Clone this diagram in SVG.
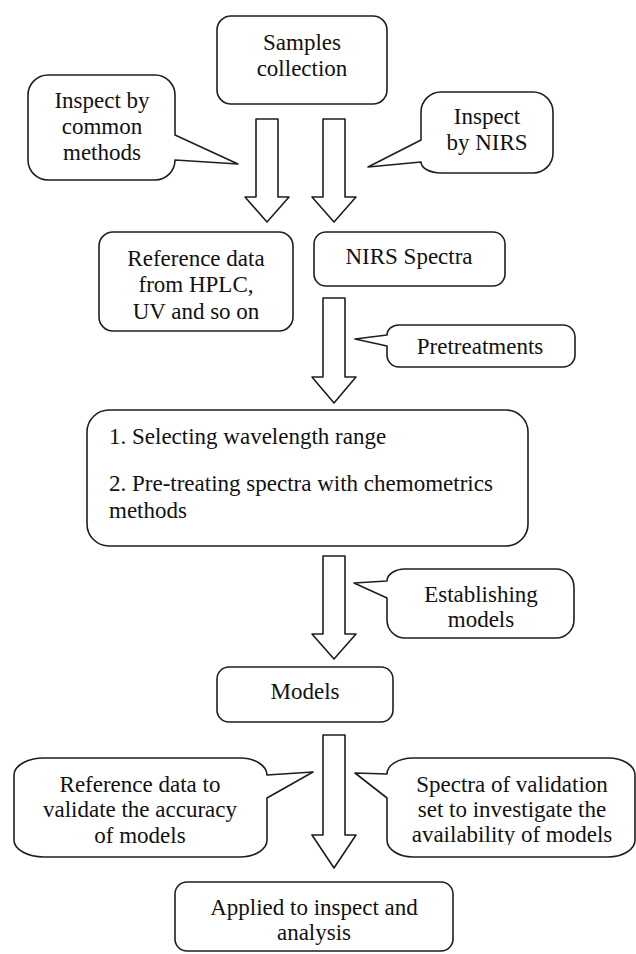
<svg xmlns="http://www.w3.org/2000/svg" width="636" height="954" viewBox="0 0 636 954">
<style>
.s{fill:#fff;stroke:#1e1e1e;stroke-width:1.6;stroke-linejoin:round}
.t{font-family:'Liberation Serif','DejaVu Serif',serif;font-size:23px;fill:#111;text-anchor:middle}
.l{text-anchor:start}
</style>
<defs>
<clipPath id="cl"><rect x="380" y="750" width="256" height="95"/></clipPath>
</defs>
<rect width="636" height="954" fill="#fff"/>
<g id="connectors">
<polygon class="s" points="256,119 278,119 278,197 289,197 267,222 245,197 256,197"/>
<polygon class="s" points="323,119 345,119 345,197 356,197 334,222 312,197 323,197"/>
<polygon class="s" points="323,298 345,298 345,377 356,377 334,403 312,377 323,377"/>
<polygon class="s" points="323,556 345,556 345,634 356,634 334,659 312,634 323,634"/>
<polygon class="s" points="323,735 345,735 345,835 356,835 334,868 312,835 323,835"/>
</g>
<g id="samples">
<rect class="s" x="217" y="16" width="170" height="88" rx="14"/>
<text class="t" x="302" y="50">Samples</text>
<text class="t" x="302" y="76">collection</text>
</g>
<g id="inspect-common">
<path class="s" d="M48,75 H155 A20 20 0 0 1 175,95 V135 L238,164 L175,160 A20 20 0 0 1 155,180 H48 A20 20 0 0 1 28,160 V95 A20 20 0 0 1 48,75 Z"/>
<text class="t" x="102" y="108">Inspect by</text>
<text class="t" x="102" y="134">common</text>
<text class="t" x="102" y="160">methods</text>
</g>
<g id="inspect-nirs">
<path class="s" d="M441,92 H533 A20 20 0 0 1 553,112 V153 A20 20 0 0 1 533,173 H441 A20 11 0 0 1 421,162 L368,167 L421,140 V112 A20 20 0 0 1 441,92 Z"/>
<text class="t" x="487" y="124">Inspect</text>
<text class="t" x="487" y="150">by NIRS</text>
</g>
<g id="reference-data">
<rect class="s" x="99" y="232" width="194" height="99" rx="14"/>
<text class="t" x="196" y="266">Reference data</text>
<text class="t" x="196" y="292">from HPLC,</text>
<text class="t" x="196" y="319">UV and so on</text>
</g>
<g id="nirs-spectra">
<rect class="s" x="314" y="232" width="191" height="54" rx="12"/>
<text class="t" x="409" y="264">NIRS Spectra</text>
</g>
<g id="pretreatments">
<path class="s" d="M399,325 H563 A12 12 0 0 1 575,337 V355 A12 12 0 0 1 563,367 H399 A12 12 0 0 1 387,355 V346 L355,339 L387,335 A12 10 0 0 1 399,325 Z"/>
<text class="t" x="480" y="354">Pretreatments</text>
</g>
<g id="processing">
<rect class="s" x="87" y="410" width="441" height="136" rx="22"/>
<text class="t l" x="109" y="444">1. Selecting wavelength range</text>
<text class="t l" x="109" y="491">2. Pre-treating spectra with chemometrics</text>
<text class="t l" x="109" y="518">methods</text>
</g>
<g id="establishing">
<path class="s" d="M405,569 H556 A18 18 0 0 1 574,587 V620 A18 18 0 0 1 556,638 H405 A18 18 0 0 1 387,620 V598 L354,583 L387,581 A18 12 0 0 1 405,569 Z"/>
<text class="t" x="481" y="602">Establishing</text>
<text class="t" x="481" y="627">models</text>
</g>
<g id="models">
<rect class="s" x="217" y="667" width="176" height="55" rx="12"/>
<text class="t" x="305" y="699">Models</text>
</g>
<g id="validate-reference">
<path class="s" d="M44,758 H240 A27 17 0 0 1 267,775 L313,772 L267,798 V840 A27 17 0 0 1 240,857 H44 A30 17 0 0 1 14,840 V775 A30 17 0 0 1 44,758 Z"/>
<text class="t" x="140" y="792">Reference data to</text>
<text class="t" x="140" y="817">validate the accuracy</text>
<text class="t" x="140" y="843">of models</text>
</g>
<g id="validate-spectra">
<path class="s" d="M413,758 H608 A27 17 0 0 1 635,775 V840 A27 17 0 0 1 608,857 H413 A26 17 0 0 1 387,840 V798 L355,773 L387,774 A26 16 0 0 1 413,758 Z"/>
<g clip-path="url(#cl)">
<text class="t" x="512" y="792">Spectra of validation</text>
<text class="t" x="512" y="817">set to investigate the</text>
<text class="t" x="512" y="842">availability of models</text>
</g>
</g>
<g id="applied">
<rect class="s" x="175" y="882" width="278" height="69" rx="12"/>
<text class="t" x="314" y="915">Applied to inspect and</text>
<text class="t" x="314" y="940">analysis</text>
</g>
</svg>
